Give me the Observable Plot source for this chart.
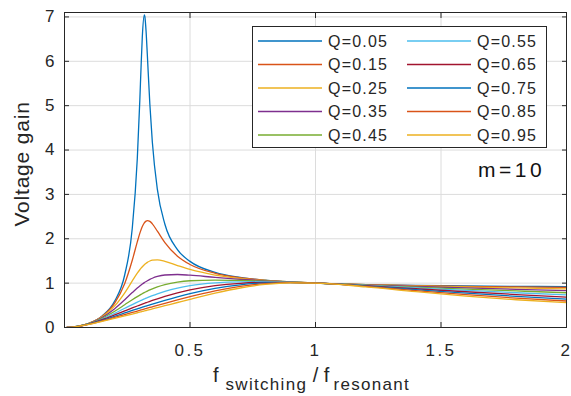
<!DOCTYPE html>
<html><head><meta charset="utf-8">
<script src="https://cdn.jsdelivr.net/npm/d3@7"></script>
<script src="https://cdn.jsdelivr.net/npm/@observablehq/plot@0.6"></script>
<style>
body{margin:0;background:#fff;}
#chart svg{font-family:"Liberation Sans",Arial,sans-serif;background:#fff;}
</style></head><body><div id="chart"></div>
<script>
const fRatio = [0.01, 0.02, 0.05, 0.1, 0.15, 0.2, 0.24, 0.27, 0.29, 0.30, 0.305, 0.31, 0.318, 0.32, 0.325, 0.33, 0.34, 0.35, 0.37, 0.40, 0.45, 0.5, 0.6, 0.7, 0.8, 0.9, 1.0, 1.2, 1.4, 1.6, 1.8, 2.0];
const qLabels = ["Q=0.05","Q=0.15","Q=0.25","Q=0.35","Q=0.45","Q=0.55","Q=0.65","Q=0.75","Q=0.85","Q=0.95"];
const gainQ05 = [0.0009,0.0036,0.0231,0.0999,0.2604,0.5939,1.1889,2.2356,3.8051,5.1136,5.8673,6.5528,7.0487,7.0102,6.6767,6.1460,5.0380,4.1752,3.1114,2.3272,1.7564,1.4906,1.2434,1.1298,1.0664,1.0267,1,0.9670,0.9479,0.9356,0.9271,0.9209];
const gainQ15 = [0.0009,0.0036,0.0230,0.0989,0.2532,0.5508,0.9921,1.5146,1.9297,2.1211,2.2038,2.2743,2.3575,2.3721,2.3980,2.4091,2.3924,2.3371,2.1712,1.9145,1.6075,1.4212,1.2221,1.1222,1.0639,1.0262,1,0.9658,0.9439,0.9279,0.9150,0.9038];
const gainQ25 = [0.0009,0.0036,0.0229,0.0971,0.2404,0.4869,0.7826,1.0497,1.2239,1.3016,1.3368,1.3692,1.4149,1.4250,1.4482,1.4681,1.4985,1.5170,1.5254,1.4920,1.3967,1.3074,1.1826,1.1075,1.0591,1.0253,1,0.9634,0.9361,0.9131,0.8922,0.8723];
const gainQ35 = [0.0009,0.0036,0.0228,0.0945,0.2245,0.4226,0.6253,0.7869,0.8888,0.9356,0.9577,0.9789,1.0107,1.0182,1.0363,1.0532,1.0838,1.1100,1.1499,1.1836,1.1943,1.1785,1.1299,1.0865,1.0519,1.0238,1,0.9598,0.9247,0.8921,0.8609,0.8307];
const gainQ45 = [0.0009,0.0036,0.0226,0.0913,0.2074,0.3665,0.5136,0.6252,0.6961,0.7296,0.7458,0.7617,0.7861,0.7921,0.8066,0.8207,0.8474,0.8722,0.9161,0.9683,1.0247,1.0541,1.0694,1.0602,1.0426,1.0219,1,0.9551,0.9102,0.8663,0.8239,0.7834];
const gainQ55 = [0.0009,0.0036,0.0224,0.0878,0.1907,0.3203,0.4330,0.5173,0.5715,0.5978,0.6106,0.6233,0.6432,0.6481,0.6602,0.6721,0.6952,0.7174,0.7590,0.8144,0.8886,0.9428,1.0060,1.0300,1.0313,1.0195,1,0.9493,0.8930,0.8370,0.7837,0.7344];
const gainQ65 = [0.0009,0.0036,0.0221,0.0841,0.1752,0.2827,0.3731,0.4406,0.4846,0.5062,0.5169,0.5275,0.5443,0.5484,0.5587,0.5690,0.5891,0.6089,0.6470,0.7007,0.7801,0.8466,0.9430,0.9968,1.0183,1.0167,1,0.9425,0.8735,0.8054,0.7425,0.6861];
const gainQ75 = [0.0009,0.0036,0.0218,0.0803,0.1611,0.2521,0.3272,0.3834,0.4205,0.4389,0.4481,0.4572,0.4717,0.4753,0.4843,0.4933,0.5111,0.5287,0.5634,0.6138,0.6929,0.7647,0.8825,0.9620,1.0036,1.0135,1,0.9347,0.8524,0.7727,0.7018,0.6403];
const gainQ85 = [0.0009,0.0036,0.0215,0.0765,0.1485,0.2269,0.2910,0.3392,0.3714,0.3874,0.3954,0.4034,0.4162,0.4194,0.4274,0.4353,0.4512,0.4671,0.4987,0.5456,0.6219,0.6950,0.8259,0.9262,0.9876,1.0098,1,0.9260,0.8300,0.7399,0.6625,0.5977];
const gainQ95 = [0.0009,0.0036,0.0211,0.0728,0.1374,0.2060,0.2619,0.3041,0.3325,0.3467,0.3538,0.3610,0.3724,0.3753,0.3824,0.3896,0.4039,0.4183,0.4472,0.4907,0.5634,0.6356,0.7736,0.8905,0.9705,1.0057,1,0.9166,0.8068,0.7075,0.6253,0.5586];
const gains = [gainQ05,gainQ15,gainQ25,gainQ35,gainQ45,gainQ55,gainQ65,gainQ75,gainQ85,gainQ95];
const seriesColors = ["#0072BD","#D95319","#EDB120","#7E2F8E","#77AC30","#4DBEEE","#A2142F","#0072BD","#D95319","#EDB120"];
const xTicks = [0.5, 1, 1.5, 2];
const yTicks = [0, 1, 2, 3, 4, 5, 6, 7];
const annotation = "m=10";

const rows = gains.flatMap((g, i) => g.map((v, j) => ({f: fRatio[j], gain: v, q: qLabels[i]})));
const ink = "#262626";

const chart = Plot.plot({
  width: 571, height: 396,
  marginLeft: 64, marginRight: 5, marginTop: 12, marginBottom: 69,
  x: {domain: [0, 2]},
  y: {domain: [0, 7.1]},
  color: {domain: qLabels, range: seriesColors},
  style: {fontFamily: '"Liberation Sans", Arial, sans-serif', fontSize: "16px", color: ink, background: "#fff"},
  marks: [
    Plot.gridX(xTicks, {stroke: "#dcdcdc", strokeOpacity: 1}),
    Plot.gridY(yTicks, {stroke: "#dcdcdc", strokeOpacity: 1}),
    Plot.line(rows, {x: "f", y: "gain", z: "q", stroke: "q", strokeWidth: 1.3, curve: "monotone-x"}),
    Plot.frame({stroke: ink, strokeWidth: 1}),
    Plot.axisX(xTicks, {tickSize: -5, text: null, label: null, stroke: ink}),
    Plot.axisX(xTicks, {anchor: "top", tickSize: -5, text: null, label: null, stroke: ink}),
    Plot.axisY(yTicks, {tickSize: -5, text: null, label: null, stroke: ink}),
    Plot.axisY(yTicks, {anchor: "right", tickSize: -5, text: null, label: null, stroke: ink}),
    Plot.axisX(xTicks, {tickSize: 0, tickPadding: 16, label: null, fontSize: 17, fill: ink, tickFormat: d => String(d)}),
    Plot.axisY(yTicks, {tickSize: 0, tickPadding: 10, label: null, fontSize: 17, fill: ink})
  ]
});
document.getElementById("chart").appendChild(chart);

const svg = d3.select(chart);
svg.selectAll("g[aria-label='x-axis tick label']").style("letter-spacing", "2.5px");

// Legend
const leg = svg.append("g").attr("font-size", 16).attr("fill", ink).attr("text-anchor", "start");
leg.append("rect").attr("x", 252.5).attr("y", 26.5).attr("width", 294).attr("height", 121)
  .attr("fill", "#fff").attr("stroke", ink).attr("stroke-width", 1);
qLabels.forEach((lab, i) => {
  const col = Math.floor(i / 5), row = i % 5;
  const y = 41 + row * 23.5;
  const x0 = col === 0 ? 258 : 407;
  leg.append("line").attr("x1", x0).attr("x2", x0 + 64).attr("y1", y).attr("y2", y)
    .attr("stroke", seriesColors[i]).attr("stroke-width", 1.3);
  leg.append("text").attr("x", x0 + 70).attr("y", y).attr("dy", "0.36em")
    .attr("letter-spacing", "1.2px").text(lab);
});

// annotation
svg.append("text").attr("x", 478).attr("y", 177).attr("font-size", 21).attr("text-anchor", "start")
  .attr("letter-spacing", "3.5px").attr("fill", "#111").text(annotation);

// axis labels
const xl = svg.append("text").attr("x", 213).attr("y", 382).attr("fill", ink).attr("font-size", 20).attr("text-anchor", "start");
xl.append("tspan").text("f");
xl.append("tspan").attr("dx", 7).attr("dy", 8).attr("font-size", 17).attr("letter-spacing", "1.3px").text("switching");
xl.append("tspan").attr("dy", -8).attr("font-size", 20).attr("letter-spacing", "0px").text(" / f");
xl.append("tspan").attr("dx", 4).attr("dy", 8).attr("font-size", 17).attr("letter-spacing", "1.3px").text("resonant");

svg.append("text").attr("transform", "translate(29,164) rotate(-90)").attr("text-anchor", "middle")
  .attr("font-size", 21).attr("letter-spacing", "0.8px").attr("fill", ink).text("Voltage gain");
</script></body></html>
